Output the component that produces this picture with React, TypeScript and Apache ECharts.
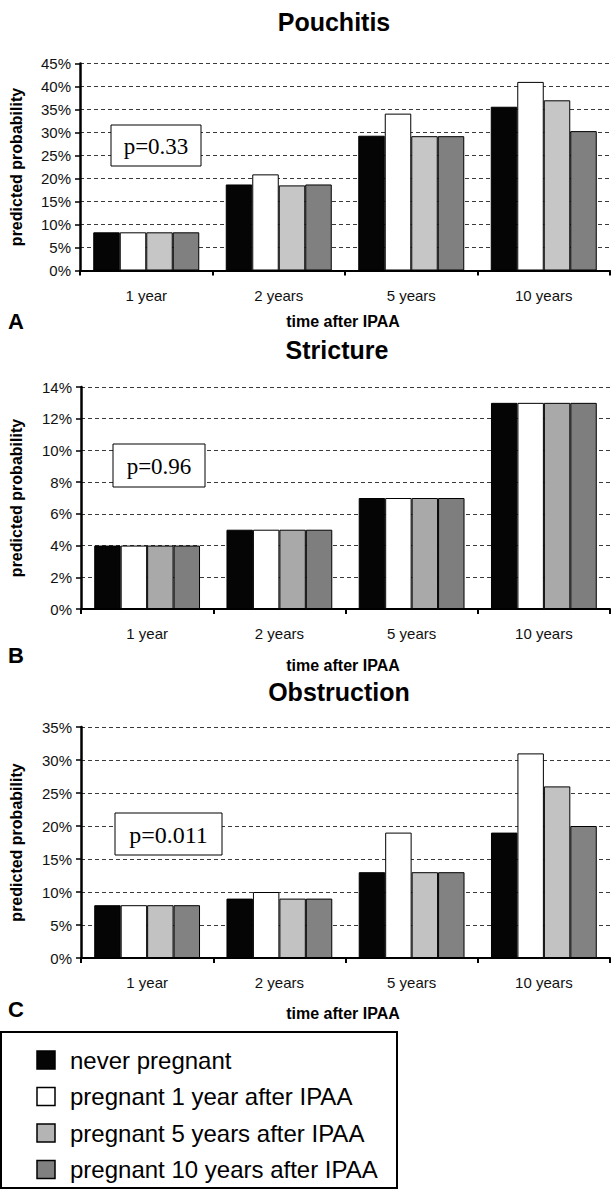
import React, { useEffect, useRef } from "react";
import * as echarts from "echarts";

const categories = ["1 year", "2 years", "5 years", "10 years"];
const seriesNames = [
  "never pregnant",
  "pregnant 1 year after IPAA",
  "pregnant 5 years after IPAA",
  "pregnant 10 years after IPAA",
];

// Pouchitis
const pouchitisNever = [8.3, 18.7, 29.3, 35.6];
const pouchitis1yr = [8.3, 20.9, 34.1, 41.0];
const pouchitis5yr = [8.3, 18.5, 29.2, 37.0];
const pouchitis10yr = [8.3, 18.7, 29.2, 30.3];

// Stricture
const strictureNever = [4, 5, 7, 13];
const stricture1yr = [4, 5, 7, 13];
const stricture5yr = [4, 5, 7, 13];
const stricture10yr = [4, 5, 7, 13];

// Obstruction
const obstructionNever = [8, 9, 13, 19];
const obstruction1yr = [8, 10, 19, 31];
const obstruction5yr = [8, 9, 13, 26];
const obstruction10yr = [8, 9, 13, 20];

const titles = ["Pouchitis", "Stricture", "Obstruction"];
const panelLetters = ["A", "B", "C"];
const pValues = ["p=0.33", "p=0.96", "p=0.011"];
const yMax = [45, 14, 35];
const yInterval = [5, 2, 5];

const SANS = "'Liberation Sans', Arial, Helvetica, sans-serif";
const SERIF = "'Liberation Serif', 'Times New Roman', serif";

export default function App() {
  const ref = useRef<HTMLDivElement>(null);

  useEffect(() => {
    document.body.style.margin = "0";
    if (!ref.current) return;
    const chart = echarts.init(ref.current, null, { renderer: "svg" });

    const grids = [
      { left: 80, top: 63.5, width: 530, height: 207 },
      { left: 81, top: 387, width: 529, height: 222 },
      { left: 81, top: 727, width: 529, height: 231 },
    ];
    const data = [
      [pouchitisNever, pouchitis1yr, pouchitis5yr, pouchitis10yr],
      [strictureNever, stricture1yr, stricture5yr, stricture10yr],
      [obstructionNever, obstruction1yr, obstruction5yr, obstruction10yr],
    ];
    const colorSets = [
      ["#050505", "#ffffff", "#c6c6c6", "#808080"],
      ["#050505", "#ffffff", "#a9a9a9", "#7e7e7e"],
      ["#050505", "#ffffff", "#c2c2c2", "#828282"],
    ];
    const legendColors = ["#050505", "#ffffff", "#b4b4b4", "#808080"];

    const titleY = [22, 350, 692];
    const titleX = [334, 337, 339];
    const xNameY = [321, 665, 1013];
    const letterY = [321, 655, 1009];
    const pBoxes = [
      { x: 111, y: 125, w: 90, h: 41, fs: 23 },
      { x: 113, y: 444, w: 92, h: 43, fs: 23 },
      { x: 115, y: 813, w: 107, h: 42, fs: 24 },
    ];

    const series: any[] = [];
    data.forEach((set, gi) => {
      set.forEach((vals, si) => {
        series.push({
          type: "bar",
          name: seriesNames[si],
          xAxisIndex: gi,
          yAxisIndex: gi,
          data: vals,
          barGap: "0%",
          barCategoryGap: "20%",
          itemStyle: {
            color: colorSets[gi][si],
            borderColor: "#000",
            borderWidth: 1,
          },
        });
      });
    });

    const graphic: any[] = [];
    grids.forEach((g, gi) => {
      graphic.push({
        type: "text",
        x: titleX[gi],
        y: titleY[gi],
        style: {
          text: titles[gi],
          fontFamily: SANS,
          fontSize: 25,
          fontWeight: "bold",
          fill: "#000",
          align: "center",
          verticalAlign: "middle",
          textAlign: "center",
          textVerticalAlign: "middle",
        },
      });
      graphic.push({
        type: "text",
        x: 343,
        y: xNameY[gi],
        style: {
          text: "time after IPAA",
          fontFamily: SANS,
          fontSize: 16,
          fontWeight: "bold",
          fill: "#000",
          align: "center",
          verticalAlign: "middle",
          textAlign: "center",
          textVerticalAlign: "middle",
        },
      });
      graphic.push({
        type: "text",
        x: 8,
        y: letterY[gi],
        style: {
          text: panelLetters[gi],
          fontFamily: SANS,
          fontSize: 22,
          fontWeight: "bold",
          fill: "#000",
          align: "left",
          verticalAlign: "middle",
          textAlign: "left",
          textVerticalAlign: "middle",
        },
      });
      graphic.push({
        type: "text",
        x: 16,
        y: g.top + g.height / 2,
        rotation: Math.PI / 2,
        style: {
          text: "predicted probability",
          fontFamily: SANS,
          fontSize: 16,
          fontWeight: "bold",
          fill: "#000",
          align: "center",
          verticalAlign: "middle",
          textAlign: "center",
          textVerticalAlign: "middle",
        },
      });
      const b = pBoxes[gi];
      graphic.push({
        type: "rect",
        z: 100,
        shape: { x: b.x, y: b.y, width: b.w, height: b.h },
        style: { fill: "#fff", stroke: "#000", lineWidth: 1 },
      });
      graphic.push({
        type: "text",
        z: 101,
        x: b.x + b.w / 2,
        y: b.y + b.h / 2 + 1,
        style: {
          text: pValues[gi],
          fontFamily: SERIF,
          fontSize: b.fs,
          fill: "#000",
          align: "center",
          verticalAlign: "middle",
          textAlign: "center",
          textVerticalAlign: "middle",
        },
      });
    });

    // Legend box
    graphic.push({
      type: "rect",
      z: 100,
      shape: { x: 1, y: 1032, width: 396, height: 156 },
      style: { fill: "#fff", stroke: "#000", lineWidth: 2 },
    });
    seriesNames.forEach((name, i) => {
      const cy = 1060 + i * 36.5;
      graphic.push({
        type: "rect",
        z: 101,
        shape: { x: 37, y: cy - 9, width: 18, height: 18 },
        style: { fill: legendColors[i], stroke: "#000", lineWidth: 1.5 },
      });
      graphic.push({
        type: "text",
        z: 101,
        x: 70,
        y: cy,
        style: {
          text: name,
          fontFamily: SANS,
          fontSize: 24,
          fill: "#000",
          align: "left",
          verticalAlign: "middle",
          textAlign: "left",
          textVerticalAlign: "middle",
        },
      });
    });

    const option: any = {
      animation: false,
      backgroundColor: "#fff",
      grid: grids.map((g) => ({ ...g, containLabel: false })),
      xAxis: grids.map((_, gi) => ({
        type: "category",
        gridIndex: gi,
        data: categories,
        axisLine: { show: true, lineStyle: { color: "#000", width: 2 } },
        axisTick: { show: true, length: 5, lineStyle: { color: "#000", width: 2 } },
        axisLabel: { fontSize: 15, color: "#111", margin: 17, fontFamily: SANS },
        splitLine: { show: false },
      })),
      yAxis: grids.map((_, gi) => ({
        type: "value",
        gridIndex: gi,
        min: 0,
        max: yMax[gi],
        interval: yInterval[gi],
        axisLine: { show: true, lineStyle: { color: "#000", width: 2.5 } },
        axisTick: { show: true, length: 5, lineStyle: { color: "#000", width: 1.5 } },
        axisLabel: {
          fontSize: 15,
          color: "#111",
          margin: 9,
          fontFamily: SANS,
          formatter: "{value}%",
        },
        splitLine: {
          show: true,
          lineStyle: { color: "#3a3a3a", width: 1, type: [4, 3] },
        },
      })),
      series,
      graphic,
    };

    chart.setOption(option);
    return () => chart.dispose();
  }, []);

  return <div ref={ref} style={{ width: 611, height: 1190 }} />;
}
